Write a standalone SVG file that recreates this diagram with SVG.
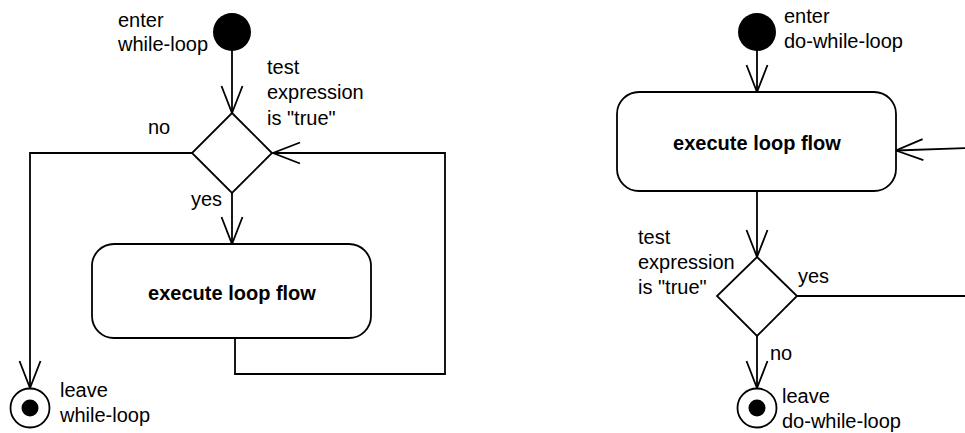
<svg xmlns="http://www.w3.org/2000/svg" width="965" height="433" viewBox="0 0 965 433">
<style>
.ln{fill:none;stroke:#000;stroke-width:1.8;stroke-linejoin:miter}
.nd{fill:#fff;stroke:#000;stroke-width:1.8}
.t{font-family:"Liberation Sans",Arial,sans-serif;font-size:20px;fill:#000}
.b{font-family:"Liberation Sans",Arial,sans-serif;font-size:20px;font-weight:bold;fill:#000;text-anchor:middle}
</style>
<defs>
<marker id="arr" markerUnits="userSpaceOnUse" markerWidth="40" markerHeight="30" viewBox="-30 -15 32 30" refX="0" refY="0" orient="auto">
<path d="M-27,-10.5 L0,0 L-27,10.5" fill="none" stroke="#000" stroke-width="1.8"/>
</marker>
</defs>
<rect width="965" height="433" fill="#fff"/>
<g id="connectors">
<line class="ln" x1="232" y1="50" x2="232" y2="113" marker-end="url(#arr)"/>
<line class="ln" x1="232" y1="193" x2="232" y2="244" marker-end="url(#arr)"/>
<polyline class="ln" points="193,153 30,153 30,388" marker-end="url(#arr)"/>
<polyline class="ln" points="235,338 235,374 445,374 445,153 273,153" marker-end="url(#arr)"/>
<line class="ln" x1="757" y1="50" x2="757" y2="92" marker-end="url(#arr)"/>
<line class="ln" x1="757" y1="191" x2="757" y2="257" marker-end="url(#arr)"/>
<line class="ln" x1="757" y1="336" x2="757" y2="388" marker-end="url(#arr)"/>
<polyline class="ln" points="797,296 990,296 990,147.2 896,150.5" marker-end="url(#arr)"/>
</g>
<g id="start1"><circle cx="232" cy="32" r="19" fill="#000"/></g>
<g id="decision1"><polygon class="nd" points="232,113 272,153 232,193 192,153"/></g>
<g id="action1">
<rect class="nd" x="92" y="244" width="279" height="94" rx="22" ry="22"/>
<text class="b" x="232" y="300">execute loop flow</text>
</g>
<g id="end1"><circle class="nd" cx="30" cy="408" r="19.5"/><circle cx="30" cy="408" r="8.5" fill="#000"/></g>
<g id="start2"><circle cx="757" cy="32" r="19" fill="#000"/></g>
<g id="action2">
<rect class="nd" x="617" y="92" width="279" height="99" rx="22" ry="22"/>
<text class="b" x="757" y="150">execute loop flow</text>
</g>
<g id="decision2"><polygon class="nd" points="757,257 797,296 757,336 717,296"/></g>
<g id="end2"><circle class="nd" cx="757" cy="408" r="19.5"/><circle cx="757" cy="408" r="8.5" fill="#000"/></g>
<g id="labels">
<text class="t" x="118" y="27">enter</text>
<text class="t" x="118" y="51">while-loop</text>
<text class="t" x="267" y="74">test</text>
<text class="t" x="267" y="99">expression</text>
<text class="t" x="267" y="125">is "true"</text>
<text class="t" x="148" y="134">no</text>
<text class="t" x="191" y="206">yes</text>
<text class="t" x="60" y="397">leave</text>
<text class="t" x="60" y="422">while-loop</text>
<text class="t" x="784" y="23">enter</text>
<text class="t" x="784" y="48">do-while-loop</text>
<text class="t" x="638" y="244">test</text>
<text class="t" x="638" y="269">expression</text>
<text class="t" x="638" y="294">is "true"</text>
<text class="t" x="798" y="283">yes</text>
<text class="t" x="770" y="360">no</text>
<text class="t" x="782" y="403">leave</text>
<text class="t" x="782" y="428">do-while-loop</text>
</g>
</svg>
